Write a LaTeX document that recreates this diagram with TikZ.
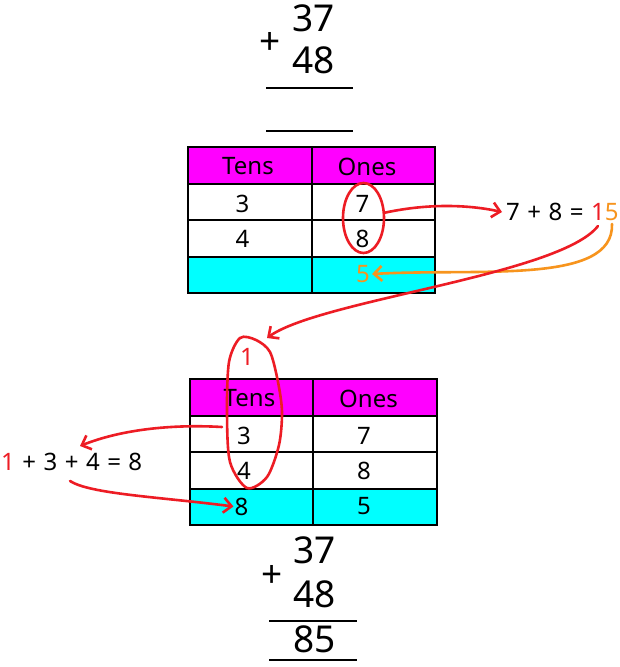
\documentclass[tikz,border=0pt]{standalone}
\usepackage{fontspec}
\setmainfont{Noto Sans}[WordSpace=1.2]
\usetikzlibrary{positioning,arrows.meta,calc,shapes.geometric}
\definecolor{TabHead}{HTML}{FF00FF}
\definecolor{TabSum}{HTML}{00FFFF}
\definecolor{PenRed}{HTML}{ED1C24}
\definecolor{PenOrange}{HTML}{F7941D}

\begin{document}
\begin{tikzpicture}[x=1pt,y=-1pt,
  every node/.style={inner sep=0pt,font=\fontsize{24}{24}\selectfont},
  cell/.style={draw=black,line width=2pt,minimum width=123.5pt,minimum height=36.5pt},
  big/.style={font=\fontsize{37}{37}\selectfont},
  sumline/.style={line width=1.5pt},
  pen/.style={draw=PenRed,line width=2.6pt,line cap=round},
  penarrow/.style={pen,-{Straight Barb[length=8pt,width=15pt]}}]
  \fill[white] (0,0) rectangle (619,667);
  \useasboundingbox (0,0) rectangle (619,667);

  % column sum on top
  \node[big] (topa) at (313.5,18.5) {37};
  \node[big] (topb) at (313.5,60.5) {48};
  \node[big] (topplus) at (270,43) {+};
  \draw[sumline] (266,88) -- (353,88);
  \draw[sumline] (266,131) -- (353,131);

  % both place value tables
  \foreach \t/\dx/\dy in {A/0/0, B/1.5/232}{
    \foreach \r/\col in {0/TabHead, 1/white, 2/white, 3/TabSum}{
      \node[cell,fill=\col] (l\t\r) at (250+\dx,165.25+36.5*\r+\dy) {};
      \node[cell,fill=\col] (r\t\r) at (373.5+\dx,165.25+36.5*\r+\dy) {};
    }
    \node (tens\t) at (248+\dx,166.5+\dy) {Tens};
    \node (ones\t) at (367+\dx,166.5+\dy) {Ones};
    \node (ta\t) at (242.5+\dx,204+\dy) {3};
    \node (tb\t) at (242.5+\dx,239+\dy) {4};
    \node (oa\t) at (362.5+\dx,204+\dy) {7};
    \node (ob\t) at (362.5+\dx,239+\dy) {8};
  }
  \node[inner sep=2pt,text=PenOrange] (fiveA) at (363,274) {5};
  \node[inner sep=1pt] (sumB) at (241.5,506.5) {8};
  \node (fiveB) at (364,506.5) {5};

  % ones column
  \node[ellipse,draw=PenRed,line width=2.6pt,minimum width=41pt,minimum height=70pt] (loopA) at (363.5,218) {};
  \node[anchor=west,inner sep=4pt] (eqA) at (502,212) {7 + 8 = {\color{PenRed}1}{\color{PenOrange}5}};
  \coordinate (oneA) at (598,226);
  \coordinate (fiveTop) at (612,224);
  \coordinate (carryIn) at (267,338);
  \draw[penarrow] (loopA.14) .. controls (430,203) and (470,205) .. (eqA.west);
  \draw[penarrow,draw=PenOrange] (fiveTop) .. controls (614,285) and (480,268) .. (fiveA.east);
  \draw[penarrow] (oneA) .. controls (560,275) and (320,300) .. (carryIn);

  % tens column
  \node[text=PenRed] (carryB) at (247,357) {1};
  \draw[pen] plot[smooth cycle] coordinates {(240,338) (229,362) (227,413) (230,462) (247,488)
    (267,477) (279,445) (282,412) (278,382) (270,352) (256,340)};
  \node[anchor=west] (eqB) at (1,462) {{\color{PenRed}1} + 3 + 4 = 8};
  \coordinate (tensOut) at (222,427);
  \coordinate (eqBin) at (80,446);
  \coordinate (eqBout) at (70,481);
  \draw[penarrow] (tensOut) .. controls (170,424) and (120,430) .. (eqBin);
  \draw[penarrow] (eqBout) .. controls (90,494) and (160,497) .. (sumB.west);

  % column sum at the bottom
  \node[big] (bota) at (314.5,550.5) {37};
  \node[big] (botb) at (314.5,594.5) {48};
  \node[big] (botplus) at (272.5,576.5) {+};
  \draw[sumline] (269,621) -- (357,621);
  \node[big] (botsum) at (314.5,639) {85};
  \draw[sumline] (269,660) -- (357,660);
\end{tikzpicture}
\end{document}
